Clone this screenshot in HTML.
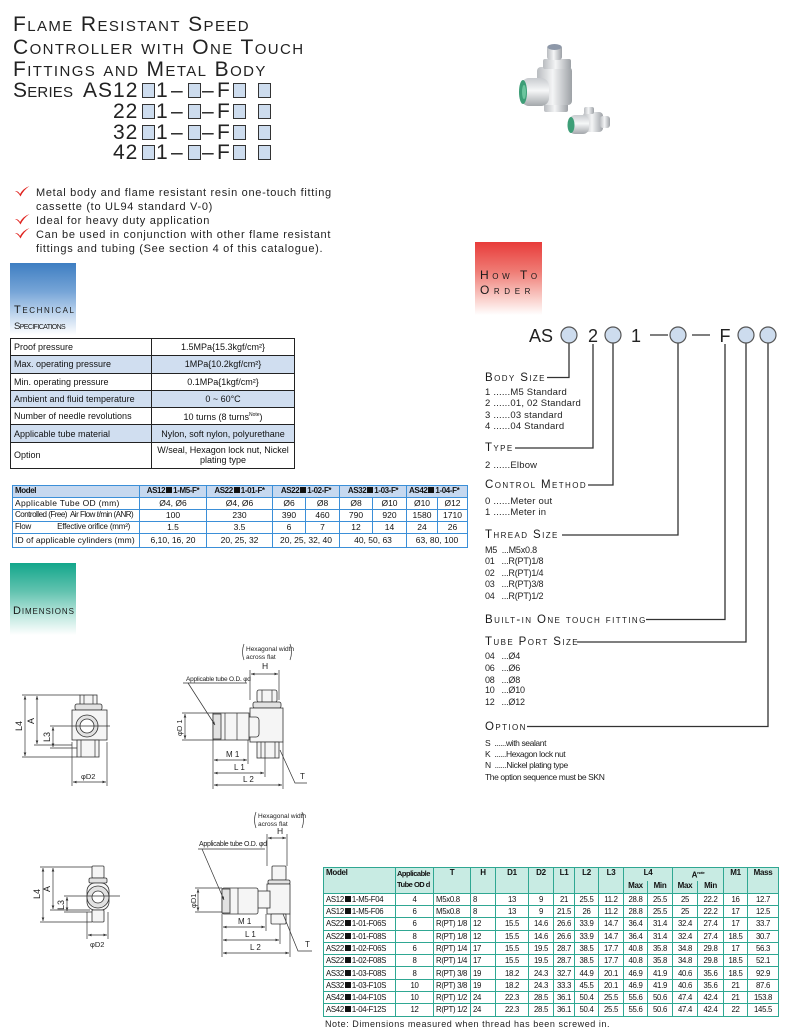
<!DOCTYPE html>
<html><head><meta charset="utf-8">
<style>
*{box-sizing:border-box}
body{margin:0;width:800px;height:1035px;position:relative;background:#fff;overflow:hidden;font-family:"Liberation Sans",sans-serif;color:#1a1a1a}
.a{position:absolute;white-space:nowrap}
.t{font-size:21px;line-height:21px;font-variant:small-caps;letter-spacing:1.4px;color:#222}
.n{font-size:21px;line-height:21px;color:#222}
.bx{position:absolute;width:13px;height:15px;background:#cddcee;border:1px solid #333}
.bl{font-size:11px;line-height:14px;letter-spacing:0.7px;color:#222}
.hd{font-variant:small-caps;color:#1a1a1a}
.oh{font-size:11.5px;line-height:12px;font-variant:small-caps;letter-spacing:1.4px;color:#1a1a1a}
.oi{font-size:9.5px;line-height:11px;letter-spacing:0.2px;color:#222}
.oc{font-size:9px;line-height:11px;letter-spacing:-0.2px;color:#222}
.os{font-size:8.5px;line-height:11px;letter-spacing:-0.4px;color:#222}
table{border-collapse:collapse;table-layout:fixed;position:absolute}
td{white-space:nowrap;overflow:hidden}
.spec td{border:1.5px solid #222;font-size:9px;padding:0 3px;height:17.3px;line-height:10px;color:#111}
.spec td.c{text-align:center}
.spec tr.b td{background:#d0def0}
.mt td{border:1.5px solid #3b8fd8;font-size:8.5px;padding:0 2px;height:12px;line-height:10px;text-align:center;color:#111}
.mt td.l{text-align:left}
.mt tr.h td{background:#c6d8ef;font-weight:bold;height:11.5px;font-size:8px;letter-spacing:-0.4px}
.bt td{border:1.5px solid #2fa792;font-size:7.8px;padding:0 1px;height:12.3px;line-height:9px;text-align:center;color:#111;letter-spacing:-0.3px}
.bt td.l{text-align:left;padding-left:2px}
.bt tr.h td{background:#c8ebe3;font-weight:bold;height:12.5px;vertical-align:top;line-height:10px;font-size:8px}
.sq{display:inline-block;width:6px;height:6px;background:#111;margin:0 1px;vertical-align:0}
</style></head><body>

<!-- Title -->
<div class="a t" style="left:13px;top:14px">Flame Resistant Speed</div>
<div class="a t" style="left:13px;top:37px">Controller with One Touch</div>
<div class="a t" style="left:13px;top:59px">Fittings and Metal Body</div>
<div class="a t" style="left:13px;top:80px;letter-spacing:0.2px">Series</div>
<div class="a n" style="left:83px;top:80px;letter-spacing:1px">AS12</div>
<div class="a n" style="left:113px;top:101px;letter-spacing:1px">22</div>
<div class="a n" style="left:113px;top:122px;letter-spacing:1px">32</div>
<div class="a n" style="left:113px;top:142px;letter-spacing:1px">42</div>

<div class="bx" style="left:142px;top:83px"></div><div class="a n" style="left:156px;top:80px">1</div><div class="a n" style="left:171px;top:80px">–</div><div class="bx" style="left:188px;top:83px"></div><div class="a n" style="left:202px;top:80px">–</div><div class="a n" style="left:217px;top:80px">F</div><div class="bx" style="left:233px;top:83px"></div><div class="bx" style="left:258px;top:83px"></div>
<div class="bx" style="left:142px;top:104px"></div><div class="a n" style="left:156px;top:101px">1</div><div class="a n" style="left:171px;top:101px">–</div><div class="bx" style="left:188px;top:104px"></div><div class="a n" style="left:202px;top:101px">–</div><div class="a n" style="left:217px;top:101px">F</div><div class="bx" style="left:233px;top:104px"></div><div class="bx" style="left:258px;top:104px"></div>
<div class="bx" style="left:142px;top:125px"></div><div class="a n" style="left:156px;top:122px">1</div><div class="a n" style="left:171px;top:122px">–</div><div class="bx" style="left:188px;top:125px"></div><div class="a n" style="left:202px;top:122px">–</div><div class="a n" style="left:217px;top:122px">F</div><div class="bx" style="left:233px;top:125px"></div><div class="bx" style="left:258px;top:125px"></div>
<div class="bx" style="left:142px;top:145px"></div><div class="a n" style="left:156px;top:142px">1</div><div class="a n" style="left:171px;top:142px">–</div><div class="bx" style="left:188px;top:145px"></div><div class="a n" style="left:202px;top:142px">–</div><div class="a n" style="left:217px;top:142px">F</div><div class="bx" style="left:233px;top:145px"></div><div class="bx" style="left:258px;top:145px"></div>

<!-- Bullets -->
<svg class="a" style="left:15px;top:186px" width="15" height="11"><path d="M0,5 Q3,4.5 5,8 Q8,2.5 14.5,0 Q8.5,4 5.5,10.5 Q3.5,6.5 0,5z" fill="#e0231f"/></svg>
<svg class="a" style="left:15px;top:214px" width="15" height="11"><path d="M0,5 Q3,4.5 5,8 Q8,2.5 14.5,0 Q8.5,4 5.5,10.5 Q3.5,6.5 0,5z" fill="#e0231f"/></svg>
<svg class="a" style="left:15px;top:228px" width="15" height="11"><path d="M0,5 Q3,4.5 5,8 Q8,2.5 14.5,0 Q8.5,4 5.5,10.5 Q3.5,6.5 0,5z" fill="#e0231f"/></svg>
<div class="a bl" style="left:36px;top:186px">Metal body and flame resistant resin one-touch fitting</div>
<div class="a bl" style="left:36px;top:200px">cassette (to UL94 standard V-0)</div>
<div class="a bl" style="left:36px;top:214px">Ideal for heavy duty application</div>
<div class="a bl" style="left:36px;top:228px">Can be used in conjunction with other flame resistant</div>
<div class="a bl" style="left:36px;top:242px">fittings and tubing (See section 4 of this catalogue).</div>

<!-- Product photo -->
<svg class="a" style="left:510px;top:35px" width="110" height="110" viewBox="510 35 110 110">
<defs>
<linearGradient id="m" x1="0" x2="1" y1="0" y2="0"><stop offset="0" stop-color="#b9bcc0"/><stop offset=".45" stop-color="#f4f5f6"/><stop offset="1" stop-color="#9da1a6"/></linearGradient>
<linearGradient id="mv" x1="0" x2="0" y1="0" y2="1"><stop offset="0" stop-color="#c8cbcf"/><stop offset=".45" stop-color="#f6f7f8"/><stop offset="1" stop-color="#a3a7ab"/></linearGradient>
</defs>
<rect x="544" y="99" width="24" height="13" rx="2" fill="url(#m)"/>
<rect x="537" y="67" width="35" height="38" rx="4" fill="url(#m)"/>
<rect x="543" y="59" width="28" height="10" rx="2" fill="url(#m)"/>
<rect x="547" y="45" width="15" height="15" rx="3" fill="url(#m)"/>
<ellipse cx="554.5" cy="47" rx="7" ry="3" fill="#8d97a8"/>
<rect x="521" y="78" width="28" height="28" rx="8" fill="url(#mv)"/>
<ellipse cx="523" cy="92" rx="4" ry="12" fill="#3d9e77"/>
<ellipse cx="524" cy="92" rx="2" ry="7" fill="#6cc59e"/>
<rect x="583" y="112" width="20" height="20" rx="4" fill="url(#m)"/>
<rect x="584" y="107" width="10" height="7" rx="2" fill="url(#m)"/>
<rect x="600" y="116" width="10" height="12" rx="3" fill="url(#m)"/>
<rect x="569" y="115" width="20" height="19" rx="6" fill="url(#mv)"/>
<ellipse cx="571" cy="125" rx="3.5" ry="8" fill="#3d9e77"/>
</svg>

<!-- Technical Specifications header -->
<div class="a" style="left:10px;top:263px;width:66px;height:72px;background:linear-gradient(#3e7ec2 0%,#77a5d7 40%,#cfe0f2 78%,#fff 100%)"></div>
<div class="a hd" style="left:14px;top:304px;font-size:11px;line-height:13px;letter-spacing:1.6px">Technical</div>
<div class="a hd" style="left:14px;top:321px;font-size:9.5px;line-height:12px;letter-spacing:-0.6px">Specifications</div>

<table class="spec" style="left:10px;top:338px;width:285px">
<colgroup><col style="width:141px"><col></colgroup>
<tr><td>Proof pressure</td><td class="c">1.5MPa{15.3kgf/cm²}</td></tr>
<tr class="b"><td>Max. operating pressure</td><td class="c">1MPa{10.2kgf/cm²}</td></tr>
<tr><td>Min. operating pressure</td><td class="c">0.1MPa{1kgf/cm²}</td></tr>
<tr class="b"><td>Ambient and fluid temperature</td><td class="c">0 ~ 60°C</td></tr>
<tr><td>Number of needle revolutions</td><td class="c">10 turns (8 turns<sup style="font-size:5px">Note</sup>)</td></tr>
<tr class="b"><td>Applicable tube material</td><td class="c">Nylon, soft nylon, polyurethane</td></tr>
<tr><td style="height:26px">Option</td><td class="c" style="height:26px;white-space:normal">W/seal, Hexagon lock nut, Nickel<br>plating type</td></tr>
</table>

<!-- Model table -->
<table class="mt" style="left:12px;top:485px;width:455px">
<colgroup><col style="width:127px"><col style="width:67px"><col style="width:66px"><col style="width:33px"><col style="width:34px"><col style="width:33px"><col style="width:34px"><col style="width:31px"><col style="width:30px"></colgroup>
<tr class="h"><td class="l">Model</td><td>AS12<span class="sq"></span>1-M5-F*</td><td>AS22<span class="sq"></span>1-01-F*</td><td colspan="2">AS22<span class="sq"></span>1-02-F*</td><td colspan="2">AS32<span class="sq"></span>1-03-F*</td><td colspan="2" class="l">AS42<span class="sq"></span>1-04-F*</td></tr>
<tr><td class="l" style="letter-spacing:0.3px">Applicable Tube OD (mm)</td><td>Ø4, Ø6</td><td>Ø4, Ø6</td><td>Ø6</td><td>Ø8</td><td>Ø8</td><td>Ø10</td><td>Ø10</td><td>Ø12</td></tr>
<tr><td class="l" style="font-size:8px;letter-spacing:-0.5px">Controlled (Free)&nbsp; Air Flow ℓ/min (ANR)</td><td>100</td><td>230</td><td>390</td><td>460</td><td>790</td><td>920</td><td>1580</td><td>1710</td></tr>
<tr><td class="l" style="font-size:8px;letter-spacing:-0.2px">Flow<span style="display:inline-block;width:26px"></span>Effective orifice (mm²)</td><td>1.5</td><td>3.5</td><td>6</td><td>7</td><td>12</td><td>14</td><td>24</td><td>26</td></tr>
<tr><td class="l" style="height:14px;letter-spacing:0.1px">ID of applicable cylinders (mm)</td><td style="height:14px">6,10, 16, 20</td><td>20, 25, 32</td><td colspan="2">20, 25, 32, 40</td><td colspan="2">40, 50, 63</td><td colspan="2">63, 80, 100</td></tr>
</table>

<!-- Dimensions header -->
<div class="a" style="left:10px;top:563px;width:66px;height:72px;background:linear-gradient(#13a68b 0%,#63c3b0 40%,#cbece5 78%,#fff 100%)"></div>
<div class="a hd" style="left:13px;top:605px;font-size:11px;line-height:13px;letter-spacing:0.9px">Dimensions</div>

<!-- How to order header -->
<div class="a" style="left:475px;top:242px;width:67px;height:73px;background:linear-gradient(#e83c3a 0%,#ef7b74 40%,#fad0cb 78%,#fff 100%)"></div>
<div class="a hd" style="left:480px;top:269px;font-size:12px;line-height:13px;letter-spacing:3.6px">How To</div>
<div class="a hd" style="left:480px;top:284px;font-size:12px;line-height:13px;letter-spacing:4.6px">Order</div>

<!-- Drawings + order diagram -->
<svg class="a" style="left:0;top:0" width="800" height="1035" viewBox="0 0 800 1035">
<defs>
<marker id="ar" viewBox="0 0 8 6" refX="8" refY="3" markerWidth="5" markerHeight="4" orient="auto-start-reverse"><path d="M0,0 L8,3 L0,6z" fill="#333"/></marker>
</defs>

<!-- order code -->
<g font-family="Liberation Sans, sans-serif" font-size="18" fill="#222">
<text x="529" y="342">AS</text>
<text x="593" y="342" text-anchor="middle">2</text>
<text x="636" y="342" text-anchor="middle">1</text>
<text x="725" y="342" text-anchor="middle">F</text>
</g>
<g stroke="#333" stroke-width="1.3" fill="none">
<line x1="650" y1="335" x2="668" y2="335"/>
<line x1="692" y1="335" x2="710" y2="335"/>
<path d="M569 343 V377.5 H547"/>
<path d="M593 344 V448 H515"/>
<path d="M613 343 V485 H588"/>
<path d="M678 343 V535 H562"/>
<path d="M725 344 V619.5 H646"/>
<path d="M746 343 V642 H577"/>
<path d="M768 343 V726.5 H527"/>
</g>
<g fill="#cddcee" stroke="#555" stroke-width="1.2">
<circle cx="569" cy="335" r="8"/><circle cx="613" cy="335" r="8"/><circle cx="678" cy="335" r="8"/><circle cx="746" cy="335" r="8"/><circle cx="768" cy="335" r="8"/>
</g>

<!-- Top front view -->
<g stroke="#333" stroke-width="0.8" fill="#f5f5f5">
<rect x="80" y="695" width="17" height="10"/>
<rect x="75" y="704" width="27" height="6" rx="2" fill="#e2e2e2"/>
<rect x="72" y="710" width="35" height="30"/>
<circle cx="87" cy="726" r="11" fill="#e2e2e2"/>
<circle cx="87" cy="726" r="7" fill="#fff"/>
<rect x="77" y="740" width="22" height="17"/>
</g>
<g stroke="#333" stroke-width="0.7" fill="none">
<line x1="84" y1="695" x2="84" y2="704"/><line x1="93" y1="695" x2="93" y2="704"/>
<line x1="81" y1="740" x2="81" y2="757"/><line x1="95" y1="740" x2="95" y2="757"/>
<line x1="22" y1="695" x2="80" y2="695"/>
<line x1="34" y1="745" x2="72" y2="745"/>
<line x1="50" y1="726" x2="110" y2="726"/>
<line x1="50" y1="748" x2="77" y2="748"/>
<line x1="22" y1="757" x2="77" y2="757"/>
<line x1="25" y1="696" x2="25" y2="756" marker-start="url(#ar)" marker-end="url(#ar)"/>
<line x1="37" y1="696" x2="37" y2="744" marker-start="url(#ar)" marker-end="url(#ar)"/>
<line x1="53" y1="727" x2="53" y2="747" marker-start="url(#ar)" marker-end="url(#ar)"/>
<line x1="72" y1="742" x2="72" y2="786"/><line x1="107" y1="742" x2="107" y2="786"/>
<line x1="73" y1="782" x2="106" y2="782" marker-start="url(#ar)" marker-end="url(#ar)"/>
</g>
<g font-family="Liberation Sans, sans-serif" font-size="9" fill="#222">
<text transform="translate(22,731) rotate(-90)">L4</text>
<text transform="translate(34,724) rotate(-90)">A</text>
<text transform="translate(50,742) rotate(-90)">L3</text>
<text x="81" y="779" font-size="7.5">φD2</text>
</g>

<!-- Top side view -->
<g stroke="#333" stroke-width="0.8" fill="#f5f5f5">
<rect x="257" y="690" width="20" height="12" rx="2"/>
<rect x="253" y="702" width="28" height="6" rx="2" fill="#e2e2e2"/>
<rect x="250" y="708" width="33" height="34"/>
<rect x="257" y="742" width="22" height="16"/>
<rect x="245" y="717" width="14" height="20" rx="3"/>
<rect x="213" y="713" width="36" height="27"/>
<rect x="213" y="714" width="8" height="25" fill="#e2e2e2"/>
</g>
<g stroke="#333" stroke-width="0.7" fill="none">
<line x1="262" y1="690" x2="262" y2="702"/><line x1="272" y1="690" x2="272" y2="702"/>
<line x1="261" y1="742" x2="261" y2="758"/><line x1="275" y1="742" x2="275" y2="758"/>
<line x1="225" y1="713" x2="225" y2="740"/><line x1="237" y1="713" x2="237" y2="740"/>
<path d="M244 644 Q241 652 244 660"/><path d="M290 644 Q293 652 290 660"/>
<line x1="250" y1="670" x2="250" y2="700"/><line x1="279" y1="670" x2="279" y2="700"/>
<line x1="251" y1="674" x2="278" y2="674" marker-start="url(#ar)" marker-end="url(#ar)"/>
<line x1="182" y1="713" x2="213" y2="713"/><line x1="182" y1="740" x2="213" y2="740"/>
<line x1="185" y1="714" x2="185" y2="739" marker-start="url(#ar)" marker-end="url(#ar)"/>
<line x1="183" y1="683" x2="247" y2="683"/>
<line x1="188" y1="683" x2="215" y2="725" marker-end="url(#ar)"/>
<line x1="213" y1="740" x2="213" y2="789"/><line x1="248" y1="740" x2="248" y2="764"/>
<line x1="265" y1="742" x2="265" y2="777"/><line x1="283" y1="742" x2="283" y2="789"/>
<line x1="214" y1="760" x2="247" y2="760" marker-start="url(#ar)" marker-end="url(#ar)"/>
<line x1="214" y1="773" x2="264" y2="773" marker-start="url(#ar)" marker-end="url(#ar)"/>
<line x1="214" y1="785" x2="282" y2="785" marker-start="url(#ar)" marker-end="url(#ar)"/>
<path d="M280 750 L295 783 H307"/>
</g>
<g font-family="Liberation Sans, sans-serif" font-size="7" fill="#222">
<text x="246" y="651" font-size="6.5">Hexagonal width</text>
<text x="246" y="659" font-size="6.5">across flat</text>
<text x="262" y="669" font-size="8.5">H</text>
<text x="186" y="681" font-size="6.5" letter-spacing="-0.2">Applicable tube O.D. φd</text>
<text transform="translate(182,736) rotate(-90)" font-size="7.5">φD 1</text>
<text x="226" y="757" font-size="8">M 1</text>
<text x="234" y="770" font-size="8">L 1</text>
<text x="243" y="782" font-size="8">L 2</text>
<text x="300" y="779" font-size="8">T</text>
</g>

<!-- Bottom front view -->
<g stroke="#333" stroke-width="0.8" fill="#f5f5f5">
<rect x="92" y="866" width="12" height="12" rx="1"/>
<rect x="89" y="878" width="18" height="5" rx="1.5" fill="#e2e2e2"/>
<rect x="87" y="883" width="22" height="27" rx="8"/>
<circle cx="98" cy="897" r="11" fill="#e2e2e2"/>
<circle cx="98" cy="897" r="6" fill="#fff"/>
<rect x="92" y="910" width="12" height="12" rx="1"/>
</g>
<g stroke="#333" stroke-width="0.7" fill="none">
<line x1="40" y1="867" x2="92" y2="867"/>
<line x1="50" y1="910" x2="90" y2="910"/>
<line x1="64" y1="896" x2="120" y2="896"/>
<line x1="64" y1="912" x2="92" y2="912"/>
<line x1="40" y1="922" x2="92" y2="922"/>
<line x1="43" y1="868" x2="43" y2="921" marker-start="url(#ar)" marker-end="url(#ar)"/>
<line x1="53" y1="868" x2="53" y2="909" marker-start="url(#ar)" marker-end="url(#ar)"/>
<line x1="67" y1="897" x2="67" y2="911" marker-start="url(#ar)" marker-end="url(#ar)"/>
<line x1="87" y1="912" x2="87" y2="939"/><line x1="108" y1="912" x2="108" y2="939"/>
<line x1="88" y1="935" x2="107" y2="935" marker-start="url(#ar)" marker-end="url(#ar)"/>
</g>
<g font-family="Liberation Sans, sans-serif" font-size="9" fill="#222">
<text transform="translate(40,899) rotate(-90)">L4</text>
<text transform="translate(50,892) rotate(-90)">A</text>
<text transform="translate(64,910) rotate(-90)">L3</text>
<text x="90" y="947" font-size="7.5">φD2</text>
</g>

<!-- Bottom side view -->
<g stroke="#333" stroke-width="0.8" fill="#f5f5f5">
<rect x="272" y="866" width="14" height="14" rx="1"/>
<rect x="268" y="880" width="22" height="4" rx="1.5" fill="#e2e2e2"/>
<rect x="267" y="884" width="23" height="30"/>
<rect x="271" y="914" width="15" height="10" rx="1"/>
<rect x="256" y="891" width="14" height="17"/>
<rect x="222" y="888" width="36" height="26" rx="2"/>
<rect x="222" y="889" width="8" height="24" fill="#e2e2e2"/>
</g>
<g stroke="#333" stroke-width="0.7" fill="none">
<line x1="238" y1="888" x2="238" y2="914"/>
<path d="M256 812 Q253 820 256 828"/><path d="M302 812 Q305 820 302 828"/>
<line x1="267" y1="834" x2="267" y2="866"/><line x1="287" y1="834" x2="287" y2="866"/>
<line x1="268" y1="838" x2="286" y2="838" marker-start="url(#ar)" marker-end="url(#ar)"/>
<line x1="195" y1="888" x2="222" y2="888"/><line x1="195" y1="912" x2="222" y2="912"/>
<line x1="198" y1="889" x2="198" y2="911" marker-start="url(#ar)" marker-end="url(#ar)"/>
<line x1="198" y1="849" x2="265" y2="849"/>
<line x1="202" y1="849" x2="224" y2="900" marker-end="url(#ar)"/>
<line x1="222" y1="914" x2="222" y2="957"/><line x1="266" y1="914" x2="266" y2="931"/>
<line x1="280" y1="924" x2="280" y2="944"/><line x1="290" y1="914" x2="290" y2="957"/>
<line x1="223" y1="927" x2="265" y2="927" marker-start="url(#ar)" marker-end="url(#ar)"/>
<line x1="223" y1="940" x2="279" y2="940" marker-start="url(#ar)" marker-end="url(#ar)"/>
<line x1="223" y1="953" x2="289" y2="953" marker-start="url(#ar)" marker-end="url(#ar)"/>
<path d="M283 914 L298 951 H312"/>
</g>
<g font-family="Liberation Sans, sans-serif" font-size="7" fill="#222">
<text x="258" y="818" font-size="6.5">Hexagonal width</text>
<text x="258" y="826" font-size="6.5">across flat</text>
<text x="277" y="834" font-size="8.5">H</text>
<text x="199" y="846" font-size="7" letter-spacing="-0.3">Applicable tube O.D. φd</text>
<text transform="translate(196,908) rotate(-90)" font-size="7.5">φD1</text>
<text x="238" y="924" font-size="8">M 1</text>
<text x="245" y="937" font-size="8">L 1</text>
<text x="250" y="950" font-size="8">L 2</text>
<text x="305" y="947" font-size="8">T</text>
</g>
</svg>

<!-- Order text -->
<div class="a oh" style="left:485px;top:371.5px">Body Size</div>
<div class="a oi" style="left:485px;top:386.5px">1 ......M5 Standard</div>
<div class="a oi" style="left:485px;top:398px">2 ......01, 02 Standard</div>
<div class="a oi" style="left:485px;top:409.5px">3 ......03 standard</div>
<div class="a oi" style="left:485px;top:421px">4 ......04 Standard</div>
<div class="a oh" style="left:485px;top:442px">Type</div>
<div class="a oi" style="left:485px;top:459.5px">2 ......Elbow</div>
<div class="a oh" style="left:485px;top:479px">Control Method</div>
<div class="a oi" style="left:485px;top:495.5px">0 ......Meter out</div>
<div class="a oi" style="left:485px;top:506.5px">1 ......Meter in</div>
<div class="a oh" style="left:485px;top:529px">Thread Size</div>
<div class="a oc" style="left:485px;top:544.5px">M5&nbsp; ...M5x0.8</div>
<div class="a oc" style="left:485px;top:556px">01&nbsp;&nbsp; ...R(PT)1/8</div>
<div class="a oc" style="left:485px;top:567.5px">02&nbsp;&nbsp; ...R(PT)1/4</div>
<div class="a oc" style="left:485px;top:579px">03&nbsp;&nbsp; ...R(PT)3/8</div>
<div class="a oc" style="left:485px;top:590.5px">04&nbsp;&nbsp; ...R(PT)1/2</div>
<div class="a oh" style="left:485px;top:613.5px">Built-in One touch fitting</div>
<div class="a oh" style="left:485px;top:636px">Tube Port Size</div>
<div class="a oc" style="left:485px;top:651px">04&nbsp;&nbsp; ...Ø4</div>
<div class="a oc" style="left:485px;top:663px">06&nbsp;&nbsp; ...Ø6</div>
<div class="a oc" style="left:485px;top:674.5px">08&nbsp;&nbsp; ...Ø8</div>
<div class="a oc" style="left:485px;top:685px">10&nbsp;&nbsp; ...Ø10</div>
<div class="a oc" style="left:485px;top:697px">12&nbsp;&nbsp; ...Ø12</div>
<div class="a oh" style="left:485px;top:721px">Option</div>
<div class="a os" style="left:485px;top:738px">S&nbsp; ......with sealant</div>
<div class="a os" style="left:485px;top:749px">K&nbsp; ......Hexagon lock nut</div>
<div class="a os" style="left:485px;top:760px">N&nbsp; ......Nickel plating type</div>
<div class="a os" style="left:485px;top:772px">The option sequence must be SKN</div>

<!-- Bottom table -->
<table class="bt" style="left:323px;top:867px;width:455px">
<colgroup><col style="width:72px"><col style="width:38px"><col style="width:37px"><col style="width:25px"><col style="width:33px"><col style="width:25px"><col style="width:21px"><col style="width:24px"><col style="width:25px"><col style="width:24px"><col style="width:25px"><col style="width:25px"><col style="width:26px"><col style="width:24px"><col style="width:31px"></colgroup>
<tr class="h"><td class="l" rowspan="2">Model</td><td rowspan="2" style="font-size:7.5px;letter-spacing:-0.5px;line-height:11px;text-align:left">Applicable<br>Tube OD d</td><td rowspan="2">T</td><td rowspan="2">H</td><td rowspan="2">D1</td><td rowspan="2">D2</td><td rowspan="2">L1</td><td rowspan="2">L2</td><td rowspan="2">L3</td><td colspan="2" style="border-bottom:none">L4</td><td colspan="2" style="border-bottom:none">A<sup style="font-size:4px">note</sup></td><td rowspan="2">M1</td><td rowspan="2">Mass</td></tr>
<tr class="h"><td style="border-top:none">Max</td><td style="border-top:none">Min</td><td style="border-top:none">Max</td><td style="border-top:none">Min</td></tr>
<tr><td class="l">AS12<span class="sq"></span>1-M5-F04</td><td>4</td><td class="l">M5x0.8</td><td class="l">8</td><td>13</td><td>9</td><td>21</td><td>25.5</td><td>11.2</td><td>28.8</td><td>25.5</td><td>25</td><td>22.2</td><td>16</td><td>12.7</td></tr>
<tr><td class="l">AS12<span class="sq"></span>1-M5-F06</td><td>6</td><td class="l">M5x0.8</td><td class="l">8</td><td>13</td><td>9</td><td>21.5</td><td>26</td><td>11.2</td><td>28.8</td><td>25.5</td><td>25</td><td>22.2</td><td>17</td><td>12.5</td></tr>
<tr><td class="l">AS22<span class="sq"></span>1-01-F06S</td><td>6</td><td class="l">R(PT) 1/8</td><td class="l">12</td><td>15.5</td><td>14.6</td><td>26.6</td><td>33.9</td><td>14.7</td><td>36.4</td><td>31.4</td><td>32.4</td><td>27.4</td><td>17</td><td>33.7</td></tr>
<tr><td class="l">AS22<span class="sq"></span>1-01-F08S</td><td>8</td><td class="l">R(PT) 1/8</td><td class="l">12</td><td>15.5</td><td>14.6</td><td>26.6</td><td>33.9</td><td>14.7</td><td>36.4</td><td>31.4</td><td>32.4</td><td>27.4</td><td>18.5</td><td>30.7</td></tr>
<tr><td class="l">AS22<span class="sq"></span>1-02-F06S</td><td>6</td><td class="l">R(PT) 1/4</td><td class="l">17</td><td>15.5</td><td>19.5</td><td>28.7</td><td>38.5</td><td>17.7</td><td>40.8</td><td>35.8</td><td>34.8</td><td>29.8</td><td>17</td><td>56.3</td></tr>
<tr><td class="l">AS22<span class="sq"></span>1-02-F08S</td><td>8</td><td class="l">R(PT) 1/4</td><td class="l">17</td><td>15.5</td><td>19.5</td><td>28.7</td><td>38.5</td><td>17.7</td><td>40.8</td><td>35.8</td><td>34.8</td><td>29.8</td><td>18.5</td><td>52.1</td></tr>
<tr><td class="l">AS32<span class="sq"></span>1-03-F08S</td><td>8</td><td class="l">R(PT) 3/8</td><td class="l">19</td><td>18.2</td><td>24.3</td><td>32.7</td><td>44.9</td><td>20.1</td><td>46.9</td><td>41.9</td><td>40.6</td><td>35.6</td><td>18.5</td><td>92.9</td></tr>
<tr><td class="l">AS32<span class="sq"></span>1-03-F10S</td><td>10</td><td class="l">R(PT) 3/8</td><td class="l">19</td><td>18.2</td><td>24.3</td><td>33.3</td><td>45.5</td><td>20.1</td><td>46.9</td><td>41.9</td><td>40.6</td><td>35.6</td><td>21</td><td>87.6</td></tr>
<tr><td class="l">AS42<span class="sq"></span>1-04-F10S</td><td>10</td><td class="l">R(PT) 1/2</td><td class="l">24</td><td>22.3</td><td>28.5</td><td>36.1</td><td>50.4</td><td>25.5</td><td>55.6</td><td>50.6</td><td>47.4</td><td>42.4</td><td>21</td><td>153.8</td></tr>
<tr><td class="l">AS42<span class="sq"></span>1-04-F12S</td><td>12</td><td class="l">R(PT) 1/2</td><td class="l">24</td><td>22.3</td><td>28.5</td><td>36.1</td><td>50.4</td><td>25.5</td><td>55.6</td><td>50.6</td><td>47.4</td><td>42.4</td><td>22</td><td>145.5</td></tr>
</table>
<div class="a" style="left:325px;top:1018px;font-size:9px;line-height:12px;letter-spacing:0.55px;color:#222">Note: Dimensions measured when thread has been screwed in.</div>

</body></html>
